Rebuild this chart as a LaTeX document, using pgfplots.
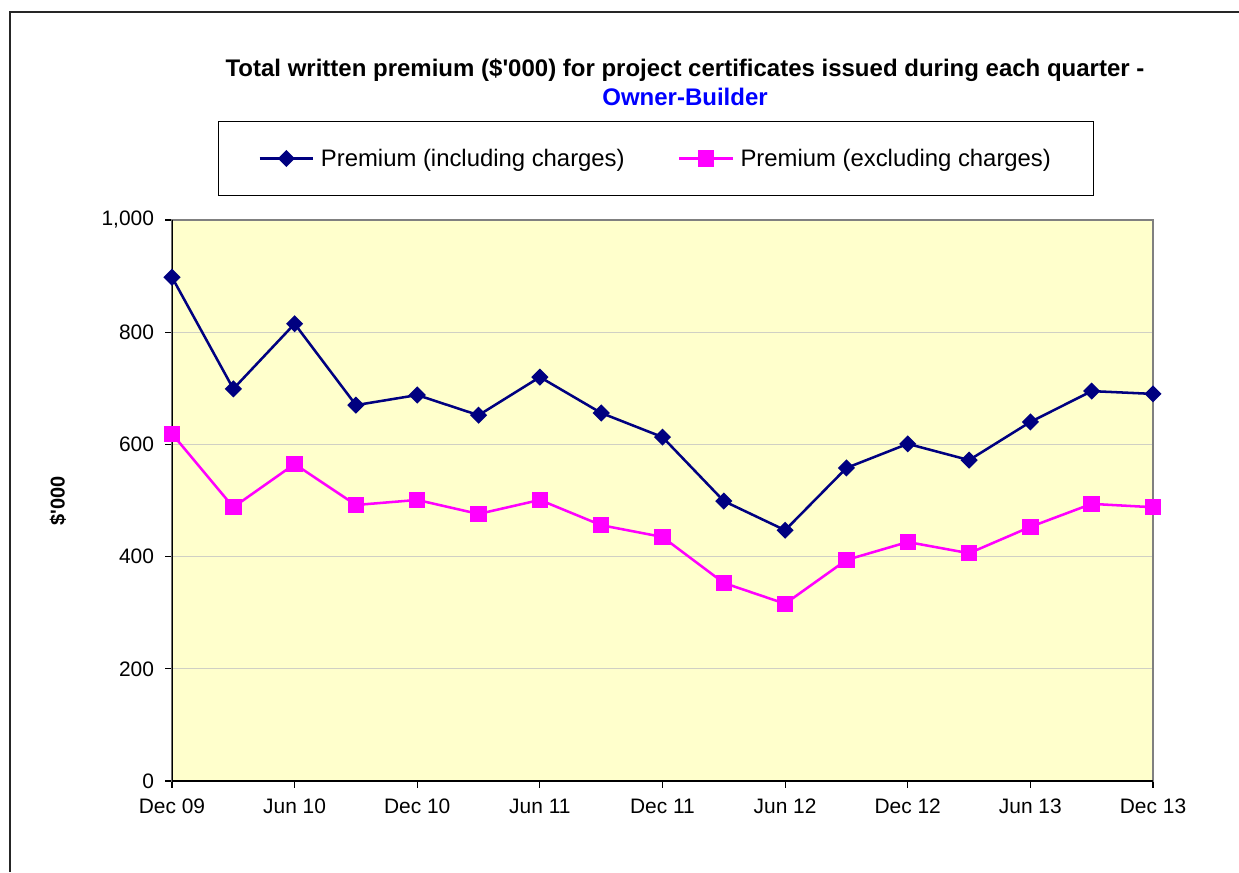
\documentclass[border=0pt]{standalone}
\usepackage{fontspec}
\setmainfont{Liberation Sans}
\usepackage{pgfplots}
\pgfplotsset{compat=1.18}
\definecolor{bgyellow}{RGB}{255,255,204}
\definecolor{navyline}{RGB}{0,0,128}
\definecolor{magline}{RGB}{255,0,255}
\definecolor{gridc}{RGB}{208,208,196}
\definecolor{titleblue}{RGB}{0,0,255}
\begin{document}
\begin{tikzpicture}
\useasboundingbox (-129pt,-68.25pt) rectangle (800.25pt,585.75pt);
\draw[line width=0.8pt, black!85] (-121.5pt,-68.25pt) -- (-121.5pt,576.75pt) -- (800.25pt,576.75pt);
\node[font=\fontsize{18}{20}\selectfont\bfseries] at (384.75pt,533.25pt) {Total written premium (\$\textquotesingle 000) for project certificates issued during each quarter -};
\node[font=\fontsize{18}{20}\selectfont\bfseries, text=titleblue] at (384.75pt,513pt) {Owner-Builder};
\begin{axis}[
  at={(0pt,0pt)}, anchor=south west,
  width=735.75pt, height=420.75pt, scale only axis,
  xmin=0, xmax=16, ymin=0, ymax=1000,
  xtick={0,2,4,6,8,10,12,14,16},
  xticklabels={Dec 09, Jun 10, Dec 10, Jun 11, Dec 11, Jun 12, Dec 12, Jun 13, Dec 13},
  ytick={0,200,400,600,800,1000},
  /pgf/number format/1000 sep={,},
  /pgf/number format/assume math mode=true,
  tick label style={font=\fontsize{15.7}{18}\selectfont},
  xticklabel style={yshift=-5pt},
  yticklabel style={xshift=-5pt},
  tick pos=left, tick align=outside, major tick length=5pt,
  tick style={black, line width=0.8pt},
  ymajorgrids, grid style={gridc, line width=0.9pt},
  axis line style={gray, line width=1.2pt},
  axis background/.style={fill=bgyellow},
  ylabel={\$\textquotesingle 000},
  ylabel style={font=\fontsize{15}{18}\selectfont\bfseries, at={(axis description cs:-0.1162,0.5)}, anchor=center},
  legend columns=2,
  legend style={at={(axis description cs:0.4934,1.1096)}, anchor=center, draw=black, line width=0.8pt,
    font=\fontsize{17.9}{20}\selectfont, inner xsep=30.25pt, inner ysep=18.4pt,
    /tikz/every odd column/.append style={column sep=3pt},
    /tikz/every even column/.append style={column sep=38pt}},
  legend image code/.code={
    \draw[#1, mark repeat=2, mark phase=2] plot coordinates {(0pt,0pt) (20pt,0pt) (40pt,0pt)};
  },
]
\addplot[navyline, line width=1.9pt, mark=square*, mark size=3.6pt, mark options={rotate=45, solid, fill=navyline}]
coordinates {(0,898) (1,699) (2,815) (3,670) (4,688) (5,652) (6,720) (7,656) (8,613) (9,499) (10,447) (11,558) (12,601) (13,572) (14,640) (15,695) (16,690)};
\addlegendentry{Premium (including charges)}
\addplot[magline, line width=1.9pt, mark=square*, mark size=5.2pt, mark options={solid, fill=magline}]
coordinates {(0,619) (1,488) (2,565) (3,492) (4,501) (5,476) (6,501) (7,456) (8,435) (9,353) (10,316) (11,394) (12,426) (13,406) (14,453) (15,494) (16,488)};
\addlegendentry{Premium (excluding charges)}
\draw[black, line width=1.2pt] (rel axis cs:0,1) -- (rel axis cs:0,0) -- (rel axis cs:1,0);
\end{axis}
\end{tikzpicture}
\end{document}
